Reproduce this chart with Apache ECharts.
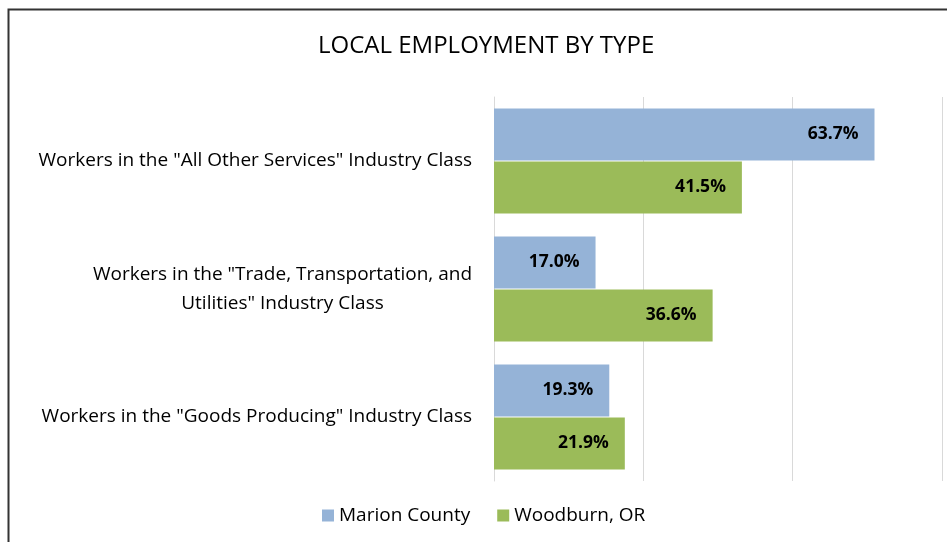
<!DOCTYPE html>
<html><head><meta charset="utf-8">
<script src="https://cdn.jsdelivr.net/npm/echarts@6/dist/echarts.min.js"></script>
<style>html,body{margin:0;padding:0;background:#fff}#c{width:947px;height:542px}</style>
</head><body><div id="c"></div>
<script>
const categories = [
  'Workers in the "All Other Services" Industry Class',
  'Workers in the "Trade, Transportation, and\nUtilities" Industry Class',
  'Workers in the "Goods Producing" Industry Class'
];
const seriesNames = ['Marion County', 'Woodburn, OR'];
const marionValues = [63.7, 17.0, 19.3];
const woodburnValues = [41.5, 36.6, 21.9];
const xTicks = [0, 25, 50, 75];

const FONT = 'Open Sans';
const chart = echarts.init(document.getElementById('c'));
chart.setOption({
  animation: false,
  textStyle: { fontFamily: FONT },
  title: {
    text: 'LOCAL EMPLOYMENT BY TYPE', left: 313, top: 29,
    textStyle: { fontFamily: FONT, fontSize: 24, fontWeight: 'normal', color: '#000' }
  },
  legend: {
    bottom: 12, left: 317, itemWidth: 12, itemHeight: 12, itemGap: 27,
    icon: 'rect',
    textStyle: { fontFamily: FONT, fontSize: 19, color: '#000' },
    data: seriesNames
  },
  grid: { left: 494, right: 5, top: 97, bottom: 61, containLabel: false },
  xAxis: {
    type: 'value', min: xTicks[0], max: xTicks[xTicks.length - 1], interval: 25,
    axisLine: { show: false }, axisTick: { show: false }, axisLabel: { show: false },
    splitLine: { lineStyle: { color: '#d9d9d9', width: 1 } }
  },
  yAxis: {
    type: 'category', inverse: true, data: categories,
    axisLine: { lineStyle: { color: '#d9d9d9', width: 1 } },
    axisTick: { length: 5, lineStyle: { color: '#d9d9d9' } },
    axisLabel: {
      margin: 22, align: 'right', fontFamily: FONT, fontSize: 19, color: '#000', lineHeight: 29,
      formatter: function (v) {
        return v.indexOf('\n') >= 0 ? v.split('\n').map(s => '{c|' + s + '}').join('\n') : v;
      },
      rich: { c: { align: 'center', fontFamily: FONT, fontSize: 19, color: '#000', lineHeight: 29 } }
    }
  },
  series: [
    {
      name: seriesNames[0], type: 'bar', data: marionValues, barGap: '2%', barCategoryGap: '18%',
      itemStyle: { color: '#95b3d7' },
      label: { show: true, position: 'insideRight', distance: 16, formatter: p => p.value.toFixed(1) + '%',
        fontFamily: FONT, fontSize: 17.5, fontWeight: 'bold', color: '#000' }
    },
    {
      name: seriesNames[1], type: 'bar', data: woodburnValues, barGap: '2%', barCategoryGap: '18%',
      itemStyle: { color: '#9bbb59' },
      label: { show: true, position: 'insideRight', distance: 16, formatter: p => p.value.toFixed(1) + '%',
        fontFamily: FONT, fontSize: 17.5, fontWeight: 'bold', color: '#000' }
    }
  ],
  graphic: [{
    type: 'rect', shape: { x: 8.5, y: 9.5, width: 960, height: 560 },
    style: { fill: 'none', stroke: '#333', lineWidth: 2 }, silent: true
  }]
});
</script></body></html>
